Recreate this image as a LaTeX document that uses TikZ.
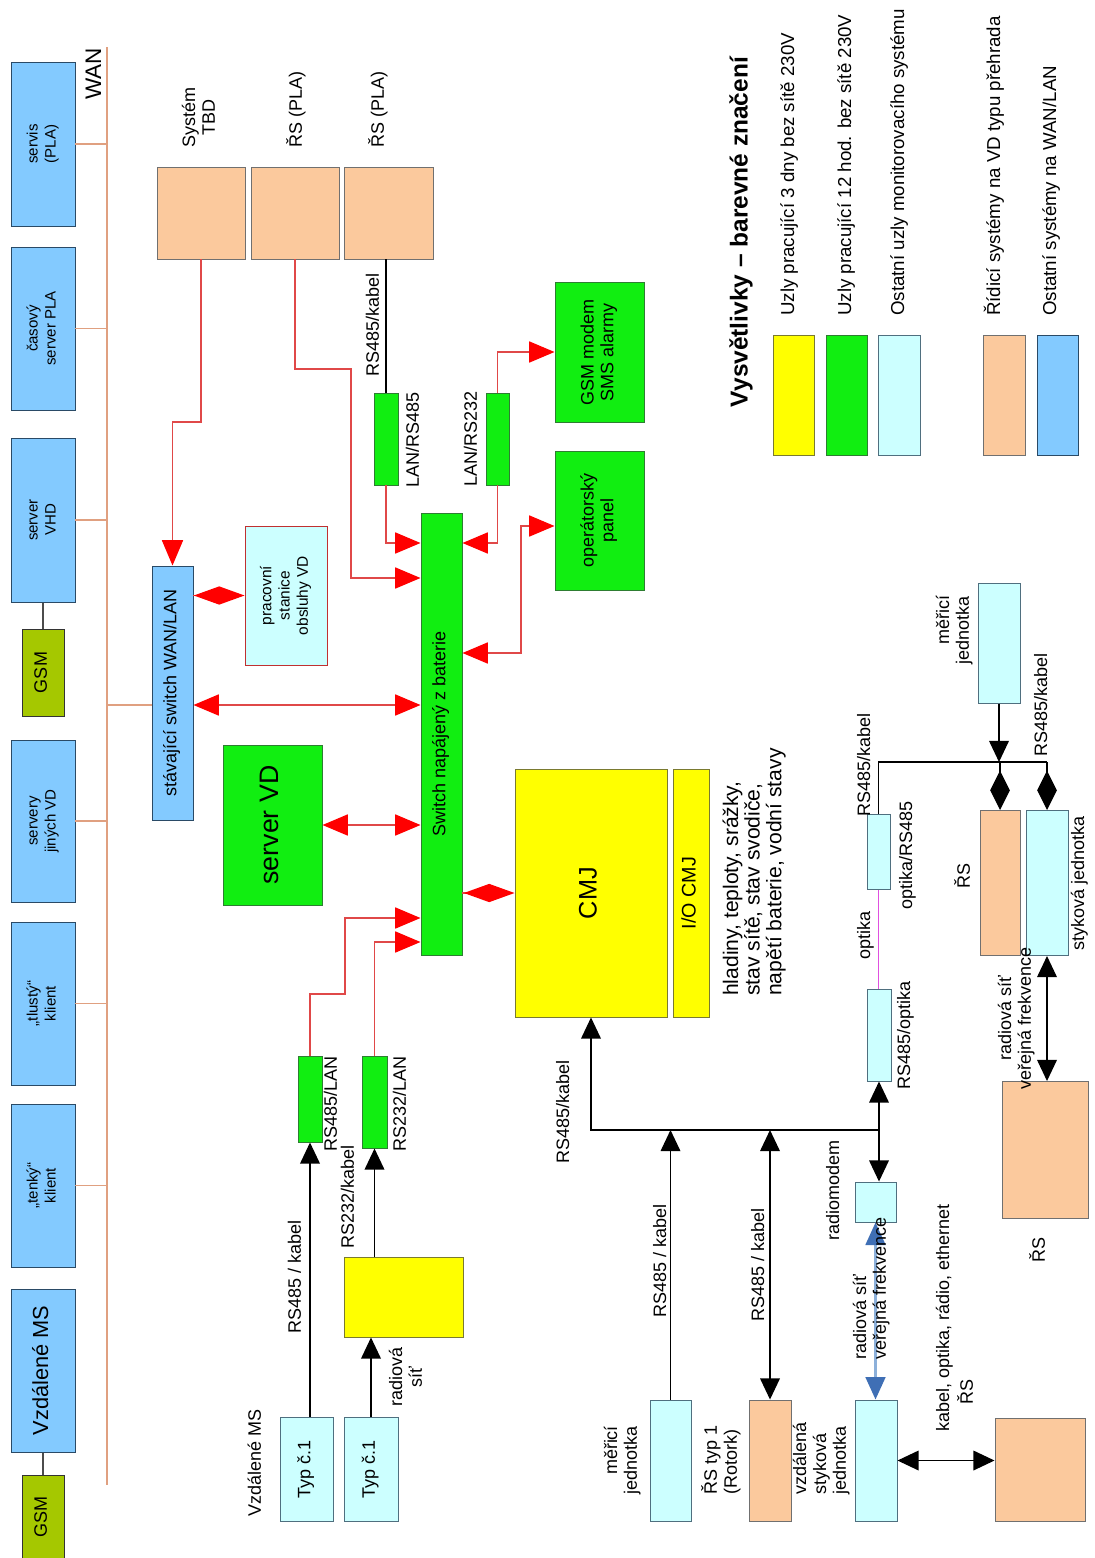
\documentclass[tikz,border=0pt]{standalone}
\usepackage{fontspec}
\setmainfont{Liberation Sans}
\usepackage{graphicx}
\usetikzlibrary{arrows.meta}

\definecolor{bluefill}{HTML}{83CAFF}
\definecolor{bluebd}{HTML}{2A4A66}
\definecolor{orfill}{HTML}{FBC99D}
\definecolor{orbd}{HTML}{707070}
\definecolor{grfill}{HTML}{11EE11}
\definecolor{grbd}{HTML}{2E7D32}
\definecolor{cyfill}{HTML}{CCFFFF}
\definecolor{cybd}{HTML}{4F6F7F}
\definecolor{yefill}{HTML}{FFFF00}
\definecolor{yebd}{HTML}{7A7A30}
\definecolor{gsmfill}{HTML}{A5C800}
\definecolor{wanln}{HTML}{E0A080}
\definecolor{redln}{HTML}{E04848}
\definecolor{redbd}{HTML}{C03030}
\definecolor{optln}{HTML}{E050E0}
\definecolor{radln}{HTML}{8CB0DA}
\definecolor{radtip}{HTML}{3F6FB5}

\newcommand{\vt}[1]{\rotatebox{90}{\begin{tabular}{@{}c@{}}#1\end{tabular}}}
\newcommand{\vl}[1]{\rotatebox{90}{\begin{tabular}{@{}l@{}}#1\end{tabular}}}
\newcommand{\vr}[1]{\rotatebox{90}{\begin{tabular}{@{}r@{}}#1\end{tabular}}}

\begin{document}
\begin{tikzpicture}[x=0.025cm,y=-0.025cm,font=\fontsize{12.8}{14.2}\selectfont,
  every node/.style={inner sep=0pt}]
  \tikzset{
    sz/.style 2 args={minimum width=#1*0.025cm,minimum height=#2*0.025cm},
    blu/.style={draw=bluebd,fill=bluefill,line width=0.7pt},
    orb/.style={draw=orbd,fill=orfill,line width=0.7pt},
    grn/.style={draw=grbd,fill=grfill,line width=0.7pt},
    cyn/.style={draw=cybd,fill=cyfill,line width=0.7pt},
    yel/.style={draw=yebd,fill=yefill,line width=0.7pt},
    gsm/.style={draw=black!80,fill=gsmfill,line width=0.7pt},
    wan/.style={draw=wanln,line width=0.9pt},
    rl/.style={draw=redln,line width=0.9pt},
    bl/.style={draw=black,line width=0.9pt},
    opt/.style={draw=optln,line width=0.9pt},
    radio/.style={draw=radln,line width=2pt},
    redtip/.tip={Triangle[length=18pt,width=15pt,color=red]},
    reddia/.tip={Diamond[length=36pt,width=13pt,color=red]},
    blktip/.tip={Triangle[length=15pt,width=14pt]},
    blkdia/.tip={Diamond[length=28pt,width=14pt]},
    radtipA/.tip={Triangle[length=16pt,width=14pt,color=radtip]},
    lgd/.style={font=\fontsize{13.3}{15}\selectfont}
  }
  \useasboundingbox (0,0) rectangle (1094,1558);

  % WAN side
  \begin{scope}[font=\fontsize{10.7}{12.8}\selectfont]
    \node[blu,sz={64}{164}] (w_1) at (43,144) {\vt{servis\\(PLA)}};
    \node[blu,sz={64}{163}] (w_2) at (43,328.5) {\vt{časový\\server PLA}};
    \node[blu,sz={64}{164}] (w_3) at (43,520) {\vt{server\\VHD}};
    \node[blu,sz={64}{162}] (w_4) at (43,821) {\vt{servery\\jiných VD}};
    \node[blu,sz={64}{163}] (w_5) at (43,1003.5) {\vt{„tlustý“\\klient}};
    \node[blu,sz={64}{163}] (w_6) at (43,1185.5) {\vt{„tenký“\\klient}};
    \node[blu,sz={64}{163},font=\fontsize{15.5}{18}\selectfont] (w_7) at (43,1370.5) {\vt{Vzdálené MS}};
  \end{scope}
  \node[gsm,sz={42}{87}] (g_1) at (43,672.5) {\vt{GSM}};
  \node[gsm,sz={42}{83}] (g_2) at (43,1516.5) {\vt{GSM}};
  \draw[draw=black!70,line width=0.9pt] (w_3.south) -- (g_1.north);
  \draw[draw=black!70,line width=0.9pt] (w_7.south) -- (g_2.north);

  \coordinate (wt) at (107,47);
  \coordinate (wb) at (107,1485);
  \draw[wan] (wt) -- (wb);
  \node[font=\fontsize{16}{18}\selectfont] (lw) at (96,74) {\vt{WAN}};
  \foreach \n in {w_1,w_2,w_3,w_4,w_5,w_6}
    \draw[wan] (\n.east) -- (\n.east -| wt);

  % systems at the top
  \node[orb,sz={88}{92}] (p_1) at (201,213) {};
  \node[orb,sz={88}{92}] (p_2) at (295,213) {};
  \node[orb,sz={89}{92}] (p_3) at (388.5,213) {};
  \node[anchor=south] (lp_1) at (201,148) {\vt{Systém\\TBD}};
  \node[anchor=south] (lp_2) at (297,148) {\vt{ŘS (PLA)}};
  \node[anchor=south] (lp_3) at (379,148) {\vt{ŘS (PLA)}};

  % switches
  \node[blu,sz={41}{254}] (wa) at (172.5,693) {\vt{stávající switch WAN/LAN}};
  \node[cyn,draw=redbd,sz={82}{139},font=\fontsize{11}{13}\selectfont] (ws) at (286,595.5) {\vt{pracovní\\stanice\\obsluhy VD}};
  \node[grn,sz={41}{442}] (sw) at (441.5,734) {\vt{Switch napájený z baterie}};
  \node[grn,sz={99}{160},font=\fontsize{19}{21}\selectfont] (vd) at (272.5,825) {\vt{server VD}};
  \node[grn,sz={24}{92}] (c_1) at (386,439) {};
  \node (lc_1) at (415,440) {\vt{LAN/RS485}};
  \node (lk_1) at (375,325) {\vt{RS485/kabel}};
  \node[grn,sz={23}{92}] (c_2) at (497.5,439) {};
  \node (lc_2) at (473,439) {\vt{LAN/RS232}};
  \node[grn,sz={89}{140}] (gm) at (599.5,352) {\vt{GSM modem\\SMS alarmy}};
  \node[grn,sz={89}{139}] (op) at (599.5,520.5) {\vt{operátorský\\panel}};

  % red links
  \draw[rl,-redtip] (p_1.south) -- (p_1.south |- 0,422) -| (wa.north);
  \draw[rl,-redtip] (p_2.south) |- (351,369) |- (sw.west |- 0,578);
  \draw[bl] (c_1.north |- p_3.south) -- (c_1.north);
  \draw[rl,-redtip] (c_1.south) |- (sw.west |- 0,543);
  \draw[rl,-redtip] (c_2.north) |- (gm.west);
  \draw[rl,-redtip] (c_2.south) |- (sw.east |- 0,543);
  \draw[rl,redtip-redtip] (sw.east |- 0,653) -| (521,526) -- (op.west |- 0,526);
  \draw[rl,-reddia] (wa.east |- ws.west) -- (ws.west);
  \coordinate (lr) at (300,705);
  \draw[wan] (lr -| wt) -- (lr -| wa.west);
  \draw[rl,redtip-redtip] (lr -| wa.east) -- (lr -| sw.west);
  \draw[rl,redtip-redtip] (vd.east) -- (vd.east -| sw.west);

  % CMJ
  \node[yel,sz={152}{248},font=\fontsize{18}{20}\selectfont] (cmj) at (591,893) {\vt{CMJ}};
  \node[yel,sz={36}{248},font=\fontsize{14}{16}\selectfont] (io) at (691,893) {\vt{I/O CMJ}};
  \node[anchor=south,font=\fontsize{15}{14.6}\selectfont] (lcmj) at (755,996) {\vl{hladiny, teploty, srážky,\\stav sítě, stav svodiče,\\napětí baterie, vodní stavy}};
  \draw[rl,-reddia] (cmj.west -| sw.east) -- (cmj.west);

  % remote stations
  \node[grn,sz={24}{86}] (c_3) at (310,1099) {};
  \node[grn,sz={25}{92}] (c_4) at (374.5,1102) {};
  \node (lc_3) at (333,1104) {\vt{RS485/LAN}};
  \node (lc_4) at (402,1104) {\vt{RS232/LAN}};
  \draw[rl,-redtip] (c_3.north) |- (345,994) |- (sw.west |- 0,918);
  \draw[rl,-redtip] (c_4.north) |- (sw.west |- 0,942);
  \node[yel,sz={119}{80}] (yb) at (403.5,1297) {};
  \node[cyn,sz={53}{104}] (t_1) at (306.5,1469) {\vt{Typ č.1}};
  \node[cyn,sz={54}{104}] (t_2) at (371,1469) {\vt{Typ č.1}};
  \node (lms) at (257,1463) {\vt{Vzdálené MS}};
  \draw[bl,-blktip] (c_3.south |- t_1.north) -- (c_3.south);
  \node (lk_2) at (297,1277) {\vt{RS485 / kabel}};
  \draw[bl,-blktip] (c_4.south |- yb.north) -- (c_4.south);
  \node (lk_3) at (350,1197) {\vt{RS232/kabel}};
  \draw[bl,-blktip] (t_2.north) -- (t_2.north |- yb.south);
  \node (lr_1) at (408,1377) {\vt{radiová\\síť}};

  % bus to CMJ
  \coordinate (j_1) at (878,1130);
  \draw[bl,-blktip] (j_1) -| (cmj.south);
  \node (lk_4) at (565,1112) {\vt{RS485/kabel}};
  \node[cyn,sz={41}{121}] (m_1) at (670.5,1460.5) {};
  \node (lm_1) at (623,1460) {\vr{měřicí\\jednotka}};
  \draw[bl,-blktip] (m_1.north) -- (m_1.north |- j_1);
  \node (lk_5) at (662,1261) {\vt{RS485 / kabel}};
  \node[orb,sz={42}{121}] (r_1) at (770,1460.5) {};
  \node[anchor=south] (lr_2) at (722,1495) {\vl{ŘS typ 1\\(Rotork)}};
  \draw[bl,blktip-blktip] (r_1.north) -- (r_1.north |- j_1);
  \node (lk_6) at (760,1265) {\vt{RS485 / kabel}};
  \node[cyn,sz={42}{121}] (s_1) at (876,1460.5) {};
  \node[anchor=south] (ls_1) at (822,1495) {\vl{vzdálená\\styková\\jednotka}};
  \node[cyn,sz={41}{40}] (rm) at (875.5,1202) {};
  \node (lrm) at (835,1190) {\vt{radiomodem}};
  \draw[radio,radtipA-radtipA] (rm.south) -- (rm.south |- s_1.north);
  \node[anchor=south] (lrs_1) at (872,1360) {\vl{radiová síť\\veřejná frekvence}};
  \node[cyn,sz={24}{92}] (o_2) at (879,1035) {};
  \node (lo_2) at (906,1035) {\vt{RS485/optika}};
  \draw[bl,blktip-blktip] (o_2.south) -- (o_2.south |- rm.north);
  \node[orb,sz={90}{103}] (r_4) at (1040,1469.5) {};
  \node (lr_4) at (968,1392) {\vt{ŘS}};
  \draw[bl,blktip-blktip] (s_1.east) -- (s_1.east -| r_4.west);
  \node (lkab) at (945,1318) {\vt{kabel, optika, rádio, ethernet}};

  % optical branch
  \node[cyn,sz={23}{75}] (o_1) at (878.5,852) {};
  \node (lo_1) at (908,855) {\vt{optika/RS485}};
  \draw[opt] (o_1.south) -- (o_1.south |- o_2.north);
  \node (lopt) at (866,935) {\vt{optika}};
  \coordinate (j_2) at (1047,762);
  \draw[bl] (o_1.north) |- (j_2);
  \node (lk_7) at (866,765) {\vt{RS485/kabel}};
  \node[cyn,sz={42}{120}] (m_2) at (999,643) {};
  \node (lm_2) at (955,630) {\vr{měřicí\\jednotka}};
  \draw[bl,-blktip] (m_2.south) -- (m_2.south |- j_2);
  \node[orb,sz={40}{145}] (r_3) at (1000,883) {};
  \node (lr_3) at (965,876) {\vt{ŘS}};
  \node[cyn,sz={42}{145}] (s_2) at (1047,883) {};
  \node (ls_2) at (1080,883) {\vt{styková jednotka}};
  \draw[bl,-blkdia] (r_3.north |- j_2) -- (r_3.north);
  \draw[bl,-blkdia] (j_2) -- (s_2.north);
  \node (lk_8) at (1043,705) {\vt{RS485/kabel}};
  \node[orb,sz={86}{137}] (r_5) at (1045,1150) {};
  \node (lr_5) at (1040,1250) {\vt{ŘS}};
  \draw[bl,blktip-blktip] (s_2.south) -- (s_2.south |- r_5.north);
  \node (lrs_2) at (1017,1018) {\vt{radiová síť\\veřejná frekvence}};

  % legend
  \node[font=\fontsize{17.4}{20}\selectfont\bfseries] (lg) at (742,232) {\vt{Vysvětlivky – barevné značení}};
  \node[yel,sz={41}{120}] (k_1) at (793.5,395) {};
  \node[grn,sz={41}{120}] (k_2) at (846.5,395) {};
  \node[cyn,sz={42}{120}] (k_3) at (899,395) {};
  \node[orb,sz={42}{120}] (k_4) at (1004,395) {};
  \node[blu,sz={41}{120}] (k_5) at (1057.5,395) {};
  \node[lgd,anchor=south] (lk_a) at (790,316) {\vl{Uzly pracující 3 dny bez sítě 230V}};
  \node[lgd,anchor=south] (lk_b) at (847,316) {\vl{Uzly pracující 12 hod. bez sítě 230V}};
  \node[lgd,anchor=south] (lk_c) at (900,316) {\vl{Ostatní uzly monitorovacího systému}};
  \node[lgd,anchor=south] (lk_d) at (995,316) {\vl{Řídicí systémy na VD typu přehrada}};
  \node[lgd,anchor=south] (lk_e) at (1052,316) {\vl{Ostatní systémy na WAN/LAN}};
\end{tikzpicture}
\end{document}
